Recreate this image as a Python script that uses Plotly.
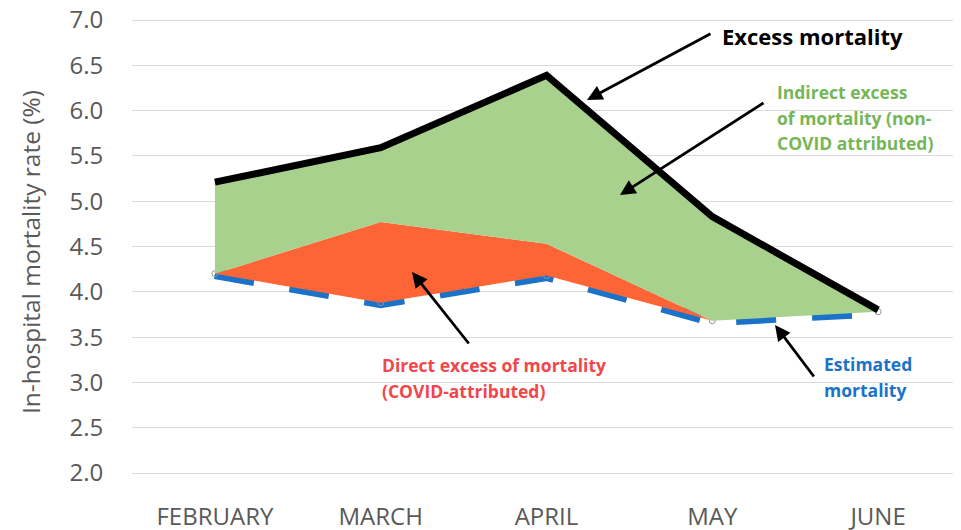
import plotly.graph_objects as go

# ---------------- data ----------------
months = ["FEBRUARY", "MARCH", "APRIL", "MAY", "JUNE"]
estimated = [4.20, 3.88, 4.18, 3.68, 3.78]          # estimated mortality (blue dashed)
direct_top = [4.20, 4.77, 4.53, 3.68, 3.78]         # estimated + direct (COVID) excess
excess = [5.21, 5.59, 6.39, 4.83, 3.80]             # observed / excess mortality (black)
y_ticks = [2.0, 2.5, 3.0, 3.5, 4.0, 4.5, 5.0, 5.5, 6.0, 6.5, 7.0]

# ---------------- layout geometry ----------------
# page body has an 8px default margin: figure is offset by (8, 8) in the window
OFF = 8
W, H = 961 - OFF, 530 - OFF
PAD = 2                       # px of padding above 7.0 / below 2.0
K = (473 - 20) / 5.0          # px per y unit
# plot area in window pixels
SL, SR, ST, SB = 132, 961, 20 - PAD, 473 + PAD
L, R, T, B = SL - OFF, SR - OFF, ST - OFF, SB - OFF
FONT = "Open Sans"


def px(x):  # window pixel -> paper x
    return (x - SL) / (SR - SL)


def py(y):  # window pixel -> paper y
    return (SB - y) / (SB - ST)


fig = go.Figure()

# blue dashed estimated line (drawn first, partly covered by fills)
fig.add_trace(go.Scatter(
    x=months, y=estimated, mode="lines+markers",
    line=dict(color="#1a72c9", width=11, dash="40px,36px"),
    marker=dict(symbol="circle-open", size=6, color="#8896a6", line=dict(width=1)),
    hoverinfo="skip", showlegend=False))

# invisible base for fill
fig.add_trace(go.Scatter(
    x=months, y=estimated, mode="lines",
    line=dict(width=0, color="rgba(0,0,0,0)"),
    hoverinfo="skip", showlegend=False))

# direct excess (orange)
fig.add_trace(go.Scatter(
    x=months, y=direct_top, mode="lines", fill="tonexty",
    fillcolor="#fe6536", line=dict(width=0, color="rgba(0,0,0,0)"),
    hoverinfo="skip", showlegend=False))

# indirect excess (green) + black excess line
fig.add_trace(go.Scatter(
    x=months, y=excess, mode="lines", fill="tonexty",
    fillcolor="#a9d18e", line=dict(width=7, color="#000000"),
    hoverinfo="skip", showlegend=False))

annotations = []


def arrow(hx, hy, tx, ty):
    annotations.append(dict(
        xref="paper", yref="paper", x=px(hx), y=py(hy),
        ax=tx - hx, ay=ty - hy, text="", showarrow=True,
        arrowhead=2, arrowsize=1.1, arrowwidth=2.8, arrowcolor="#000000",
        standoff=0))


def label(text, x, y, color, size):
    annotations.append(dict(
        xref="paper", yref="paper", x=px(x), y=py(y),
        xanchor="left", yanchor="middle", text="<b>" + text + "</b>",
        showarrow=False, font=dict(family=FONT, size=size, color=color)))


arrow(587, 100, 712, 33)
arrow(620, 195, 765, 102)
arrow(412, 272, 470, 345)
arrow(775, 325, 815, 378)

label("Excess mortality", 720, 36, "#000000", 22)

green = "#77b657"
label("Indirect excess", 775, 92, green, 17.5)
label("of mortality (non-", 775, 118, green, 17.5)
label("COVID attributed)", 775, 143, green, 17.5)

red = "#f2464b"
label("Direct excess of mortality", 380, 365, red, 17.5)
label("(COVID-attributed)", 380, 391, red, 17.5)

blue = "#1a72c9"
label("Estimated", 822, 364, blue, 17.5)
label("mortality", 822, 390, blue, 17.5)

# y-axis title
annotations.append(dict(
    xref="paper", yref="paper", x=px(30), y=py(252),
    xanchor="center", yanchor="middle", textangle=-90,
    text="In-hospital mortality rate (%)", showarrow=False,
    font=dict(family=FONT, size=24.5, color="#595959")))

fig.update_layout(
    template="none",
    width=W, height=H,
    margin=dict(l=L, r=W - R, t=T, b=H - B, autoexpand=False),
    paper_bgcolor="white", plot_bgcolor="white",
    showlegend=False,
    annotations=annotations,
    xaxis=dict(
        type="category", range=[-0.5, 4.5], showgrid=False, zeroline=False,
        automargin=False, ticklabeloverflow="allow",
        showline=False, ticks="outside", ticklen=20, tickcolor="rgba(0,0,0,0)",
        tickfont=dict(family=FONT, size=24, color="#595959")),
    yaxis=dict(
        range=[2 - PAD / K, 7 + PAD / K], tickvals=y_ticks,
        ticktext=[f"{v:.1f}" for v in y_ticks],
        automargin=False, ticklabeloverflow="allow",
        showgrid=True, gridcolor="#d9d9d9", gridwidth=1, zeroline=False,
        showline=False, ticks="outside", ticklen=23, tickcolor="rgba(0,0,0,0)",
        tickfont=dict(family=FONT, size=24, color="#595959")),
)

fig.write_html("out.html")
